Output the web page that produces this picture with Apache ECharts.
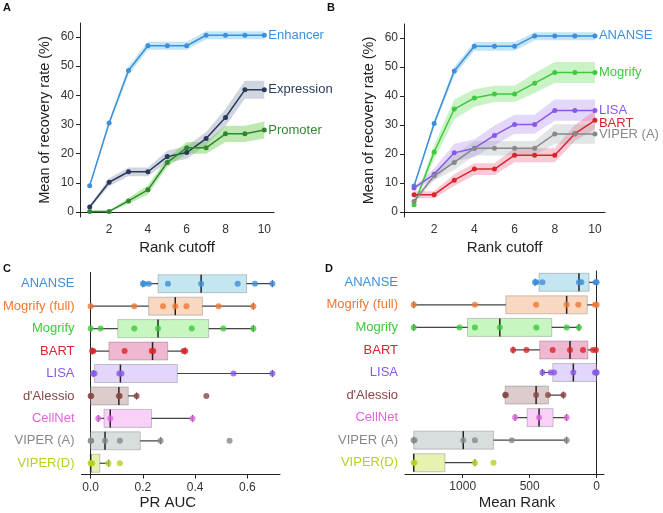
<!DOCTYPE html>
<html>
<head>
<meta charset="utf-8">
<script src="https://cdn.jsdelivr.net/npm/echarts@6/dist/echarts.min.js"></script>
<style>
  body { margin: 0; background: #fff; }
  #main { width: 663px; height: 513px; }
</style>
</head>
<body>
<div id="main"></div>
<script>
// Rank cutoff categories (panels A and B)
const rankCutoff = ['1', '2', '3', '4', '5', '6', '7', '8', '9', '10'];

// Panel A: recovery rate by data type (mean and band)
const enhancerMean = [9, 30.5, 48.5, 57, 57, 57, 60.6, 60.6, 60.6, 60.6];
const enhancerLow = [8.5, 29.5, 47, 55.6, 55.6, 55.6, 59.2, 59.2, 59.2, 59.2];
const enhancerHigh = [9.5, 31.5, 50, 58.4, 58.4, 58.4, 62, 62, 62, 62];
const expressionMean = [1.7, 10.2, 13.8, 13.8, 19, 20.4, 25.2, 32.4, 41.9, 41.9];
const expressionLow = [1.2, 8.8, 12.3, 12.3, 17, 18.2, 23, 29.5, 38.8, 38.8];
const expressionHigh = [2.2, 11.6, 15.3, 15.3, 21, 22.6, 27.4, 35.3, 45, 45];
const promoterMean = [0.2, 0.2, 3.8, 7.6, 17, 22, 22, 26.8, 26.8, 28.1];
const promoterLow = [0, 0, 2.8, 6, 15.5, 20, 20, 24, 24, 25.2];
const promoterHigh = [0.4, 0.4, 4.8, 9.2, 18.5, 24, 24, 29.6, 29.6, 31];

// Panel B: recovery rate by method
const ananseMean = [9, 30.5, 48.6, 57.1, 57.1, 57.1, 60.7, 60.7, 60.7, 60.7];
const ananseLow = [8.5, 29.5, 47, 55.6, 55.6, 55.6, 59.2, 59.2, 59.2, 59.2];
const ananseHigh = [9.5, 31.5, 50, 58.6, 58.6, 58.6, 62, 62, 62, 62];
const mogrifyMean = [2.5, 20.7, 35.5, 39.3, 40.7, 40.7, 44.4, 48.1, 48.1, 48.1];
const mogrifyLow = [2, 18, 32, 36.3, 37.9, 37.9, 41, 44.5, 44.5, 44.5];
const mogrifyHigh = [3, 23, 38.8, 42.3, 43.5, 43.5, 47.8, 51.7, 51.7, 51.7];
const lisaMean = [8.3, 13, 20.4, 22, 26.4, 30.2, 30.2, 35, 35, 35];
const lisaLow = [7.8, 11, 17.5, 19, 23, 27, 27, 31.5, 31.5, 31.5];
const lisaHigh = [8.8, 15, 23.5, 25, 29.8, 33.5, 33.5, 38.8, 38.8, 38.8];
const bartMean = [6, 6, 11, 14.8, 14.8, 19.6, 19.6, 19.6, 27, 31.6];
const bartLow = [4.8, 4.8, 9, 12.8, 12.8, 17.2, 17.2, 17.2, 24.5, 28.5];
const bartHigh = [7.2, 7.2, 13, 16.8, 16.8, 22, 22, 22, 30, 35];
const viperMean = [3.7, 12.5, 17.1, 22, 22, 22, 22, 26.9, 26.9, 26.9];
const viperLow = [3.2, 11, 14.5, 19.5, 19.5, 19.5, 19.5, 23.5, 23.5, 23.5];
const viperHigh = [4.2, 14, 19.7, 24.5, 24.5, 24.5, 24.5, 30.3, 30.3, 30.3];
const recoveryTicks = [0, 10, 20, 30, 40, 50, 60];

// Panels C and D: methods
const methods = ['ANANSE', 'Mogrify (full)', 'Mogrify', 'BART', 'LISA', "d'Alessio", 'CellNet', 'VIPER (A)', 'VIPER(D)'];
const methodColors = ['#3d8fdc', '#f07832', '#3fc93f', '#d9262a', '#8b57e8', '#8a4646', '#e066e0', '#858989', '#b9d020'];
const boxFills = ['#c4e6f0', '#f8d8c0', '#c8f6c0', '#f0b8d0', '#e2d6fa', '#dccccc', '#f8d0f8', '#d8dede', '#e8f2b0'];

// PR AUC: [whisker low, q1, median, q3, whisker high]
const aucBoxes = [
  [0.2, 0.258, 0.423, 0.597, 0.696],
  [0, 0.222, 0.324, 0.428, 0.623],
  [0, 0.104, 0.258, 0.452, 0.623],
  [0.006, 0.07, 0.237, 0.295, 0.362],
  [0.01, 0.015, 0.114, 0.332, 0.696],
  [0, 0, 0.108, 0.144, 0.176],
  [0.029, 0.051, 0.075, 0.233, 0.39],
  [0, 0, 0.055, 0.19, 0.268],
  [0, 0, 0, 0.035, 0.069]
];
const aucPoints = [
  [0.2, 0.205, 0.223, 0.296, 0.423, 0.563, 0.629, 0.696],
  [0, 0.167, 0.277, 0.324, 0.367, 0.49, 0.623],
  [0, 0.038, 0.167, 0.258, 0.387, 0.508, 0.623],
  [0.006, 0.01, 0.13, 0.234, 0.24, 0.356, 0.362],
  [0.01, 0.015, 0.11, 0.118, 0.547, 0.696],
  [0, 0.002, 0.108, 0.111, 0.176, 0.443],
  [0.029, 0.075, 0.39],
  [0, 0.002, 0.055, 0.112, 0.268, 0.532],
  [0, 0.003, 0.006, 0.068, 0.112]
];
const aucTicks = [0, 0.2, 0.4, 0.6];

// Mean rank: [whisker low, q1, median, q3, whisker high]
const rankBoxes = [
  [460, 430, 132, 57, 0],
  [1366, 678, 224, 70, 0],
  [1366, 964, 723, 335, 132],
  [624, 425, 199, 65, 2],
  [405, 328, 174, 2, 0],
  [683, 683, 452, 360, 248],
  [609, 519, 430, 325, 224],
  [1366, 1366, 996, 770, 224],
  [1366, 1366, 1366, 1133, 909]
];
const rankPoints = [
  [460, 450, 405, 132, 114, 8, 0],
  [1366, 909, 452, 224, 137, 12, 0],
  [1366, 1024, 909, 723, 450, 224, 132],
  [624, 524, 328, 199, 102, 27, 5],
  [405, 343, 318, 174, 12, 3, 0],
  [683, 678, 452, 363, 248],
  [609, 430, 224],
  [1366, 1360, 996, 909, 634, 224],
  [1366, 1360, 909, 770]
];
const rankTicks = [0, 500, 1000];

const FONT = 'Liberation Sans, Arial, sans-serif';
const AXIS_COLOR = '#222';

const chart = echarts.init(document.getElementById('main'));

// one line with its shaded band, built as two stacked helper series
function bandSeries(name, mean, low, high, color, band, axis, labelOffset) {
  const stack = 'band_' + name;
  return [{
    type: 'line', xAxisIndex: axis, yAxisIndex: axis, stack: stack,
    data: low, symbol: 'none', silent: true, z: 1,
    lineStyle: { opacity: 0 }
  }, {
    type: 'line', xAxisIndex: axis, yAxisIndex: axis, stack: stack,
    data: high.map((h, i) => +(h - low[i]).toFixed(2)), symbol: 'none', silent: true, z: 1,
    lineStyle: { opacity: 0 },
    areaStyle: { color: band, opacity: 1 }
  }, {
    type: 'line', name: name, xAxisIndex: axis, yAxisIndex: axis,
    data: mean, symbol: 'circle', symbolSize: 5, z: 3,
    itemStyle: { color: color },
    lineStyle: { color: color, width: 1.5 },
    endLabel: {
      show: true, formatter: name, color: color, fontSize: 13, fontFamily: FONT,
      distance: 4, offset: labelOffset || [0, 0]
    }
  }];
}

// box + whiskers + median drawn with the axis scales
function boxRenderer(fills) {
  return function (params, api) {
    const i = api.value(5);
    const xs = [0, 1, 2, 3, 4].map(k => api.coord([api.value(k), i])[0]);
    const y = api.coord([api.value(0), i])[1];
    const h = 18, cap = 7;
    const left = Math.min(xs[1], xs[3]);
    const right = Math.max(xs[1], xs[3]);
    const whisker = { stroke: '#444', lineWidth: 1.2 };
    return {
      type: 'group',
      children: [
        { type: 'line', shape: { x1: xs[0], y1: y, x2: xs[4], y2: y }, style: whisker },
        { type: 'line', shape: { x1: xs[0], y1: y - cap / 2, x2: xs[0], y2: y + cap / 2 }, style: whisker },
        { type: 'line', shape: { x1: xs[4], y1: y - cap / 2, x2: xs[4], y2: y + cap / 2 }, style: whisker },
        { type: 'rect', shape: { x: left, y: y - h / 2, width: right - left, height: h },
          style: { fill: fills[i], stroke: 'rgba(0,0,0,0.2)', lineWidth: 1 } },
        { type: 'line', shape: { x1: xs[2], y1: y - h / 2, x2: xs[2], y2: y + h / 2 },
          style: { stroke: '#222', lineWidth: 1.5 } }
      ]
    };
  };
}

function pointData(rows) {
  const out = [];
  rows.forEach((row, i) => {
    row.forEach(v => out.push({ value: [v, i], itemStyle: { color: methodColors[i] } }));
  });
  return out;
}

function rangeAxis(idx, name, gap) {
  return {
    type: 'value', gridIndex: idx, min: -1.7, max: 64.8,
    name: name, nameLocation: 'middle', nameGap: gap,
    nameTextStyle: { fontSize: 14.5, color: AXIS_COLOR, fontFamily: FONT },
    axisLine: { show: true, lineStyle: { color: AXIS_COLOR, width: 1 } },
    axisTick: { show: true, length: 4, customValues: recoveryTicks, lineStyle: { color: AXIS_COLOR } },
    axisLabel: { customValues: recoveryTicks, fontSize: 12, color: '#333', margin: 6, fontFamily: FONT },
    splitLine: { show: false }
  };
}

function cutoffAxis(idx) {
  const every2 = (index) => index % 2 === 1;
  return {
    type: 'category', gridIndex: idx, data: rankCutoff, boundaryGap: true,
    name: 'Rank cutoff', nameLocation: 'middle', nameGap: 23,
    nameTextStyle: { fontSize: 15, color: AXIS_COLOR, fontFamily: FONT },
    axisLine: { lineStyle: { color: AXIS_COLOR, width: 1 } },
    axisTick: { alignWithLabel: true, interval: every2, length: 4, lineStyle: { color: AXIS_COLOR } },
    axisLabel: { interval: every2, fontSize: 12, color: '#333', margin: 7, fontFamily: FONT }
  };
}

function methodAxis(idx) {
  return {
    type: 'category', gridIndex: idx, data: methods, inverse: true,
    axisLine: { lineStyle: { color: AXIS_COLOR, width: 1 } },
    axisTick: { alignWithLabel: true, length: 4, lineStyle: { color: AXIS_COLOR } },
    axisLabel: {
      fontSize: 13, margin: 7, fontFamily: FONT,
      color: (v, i) => methodColors[methods.indexOf(v)]
    }
  };
}

const option = {
  backgroundColor: '#fff',
  animation: false,
  textStyle: { fontFamily: FONT },
  grid: [
    { left: 80, top: 23, width: 194, height: 194 },
    { left: 404, top: 24, width: 201, height: 193 },
    { left: 81, top: 272.5, width: 199, height: 202 },
    { left: 405, top: 271, width: 199, height: 203 }
  ],
  xAxis: [
    cutoffAxis(0),
    cutoffAxis(1),
    {
      type: 'value', gridIndex: 2, min: -0.035, max: 0.725,
      name: 'PR AUC', nameLocation: 'middle', nameGap: 21,
      nameTextStyle: { fontSize: 15, color: AXIS_COLOR, fontFamily: FONT, padding: [0, 26, 0, 0] },
      axisLine: { show: true, lineStyle: { color: AXIS_COLOR, width: 1 } },
      axisTick: { show: true, length: 4, customValues: aucTicks, lineStyle: { color: AXIS_COLOR } },
      axisLabel: { customValues: aucTicks, formatter: v => v.toFixed(1), fontSize: 12, color: '#333', margin: 7, fontFamily: FONT },
      splitLine: { show: false }
    },
    {
      type: 'value', gridIndex: 3, min: -55, max: 1431, inverse: true,
      name: 'Mean Rank', nameLocation: 'middle', nameGap: 21,
      nameTextStyle: { fontSize: 15, color: AXIS_COLOR, fontFamily: FONT, padding: [0, 0, 0, 25] },
      axisLine: { show: true, lineStyle: { color: AXIS_COLOR, width: 1 } },
      axisTick: { show: true, length: 4, customValues: rankTicks, lineStyle: { color: AXIS_COLOR } },
      axisLabel: { customValues: rankTicks, formatter: v => String(v), fontSize: 12, color: '#333', margin: 7, fontFamily: FONT },
      splitLine: { show: false }
    }
  ],
  yAxis: [
    rangeAxis(0, 'Mean of recovery rate (%)', 28),
    rangeAxis(1, 'Mean of recovery rate (%)', 28),
    methodAxis(2),
    methodAxis(3)
  ],
  graphic: [
    { type: 'text', left: 3, top: 2, style: { text: 'A', font: 'bold 11px ' + FONT, fill: '#111' } },
    { type: 'text', left: 327, top: 2, style: { text: 'B', font: 'bold 11px ' + FONT, fill: '#111' } },
    { type: 'text', left: 3, top: 263, style: { text: 'C', font: 'bold 11px ' + FONT, fill: '#111' } },
    { type: 'text', left: 325, top: 263, style: { text: 'D', font: 'bold 11px ' + FONT, fill: '#111' } }
  ],
  series: [].concat(
    bandSeries('Enhancer', enhancerMean, enhancerLow, enhancerHigh, '#3d8fdc', 'rgba(120,200,235,0.45)', 0),
    bandSeries('Expression', expressionMean, expressionLow, expressionHigh, '#2b3a5c', 'rgba(100,120,150,0.3)', 0),
    bandSeries('Promoter', promoterMean, promoterLow, promoterHigh, '#2f882f', 'rgba(90,200,60,0.4)', 0),
    bandSeries('ANANSE', ananseMean, ananseLow, ananseHigh, '#3d8fdc', 'rgba(120,200,235,0.45)', 1),
    bandSeries('Mogrify', mogrifyMean, mogrifyLow, mogrifyHigh, '#3fc93f', 'rgba(100,220,90,0.35)', 1),
    bandSeries('LISA', lisaMean, lisaLow, lisaHigh, '#8b57e8', 'rgba(175,140,240,0.35)', 1),
    bandSeries('BART', bartMean, bartLow, bartHigh, '#d9262a', 'rgba(235,100,140,0.35)', 1, [0, 3]),
    bandSeries('VIPER (A)', viperMean, viperLow, viperHigh, '#858989', 'rgba(160,170,170,0.3)', 1),
    [{
      type: 'custom', xAxisIndex: 2, yAxisIndex: 2, clip: false,
      renderItem: boxRenderer(boxFills),
      encode: { x: [0, 1, 2, 3, 4], y: 5 },
      data: aucBoxes.map((b, i) => b.concat([i]))
    }, {
      type: 'scatter', xAxisIndex: 2, yAxisIndex: 2, symbolSize: 6, z: 5,
      data: pointData(aucPoints)
    }, {
      type: 'custom', xAxisIndex: 3, yAxisIndex: 3, clip: false,
      renderItem: boxRenderer(boxFills),
      encode: { x: [0, 1, 2, 3, 4], y: 5 },
      data: rankBoxes.map((b, i) => b.concat([i]))
    }, {
      type: 'scatter', xAxisIndex: 3, yAxisIndex: 3, symbolSize: 6, z: 5,
      data: pointData(rankPoints)
    }]
  )
};

chart.setOption(option);
</script>
</body>
</html>
